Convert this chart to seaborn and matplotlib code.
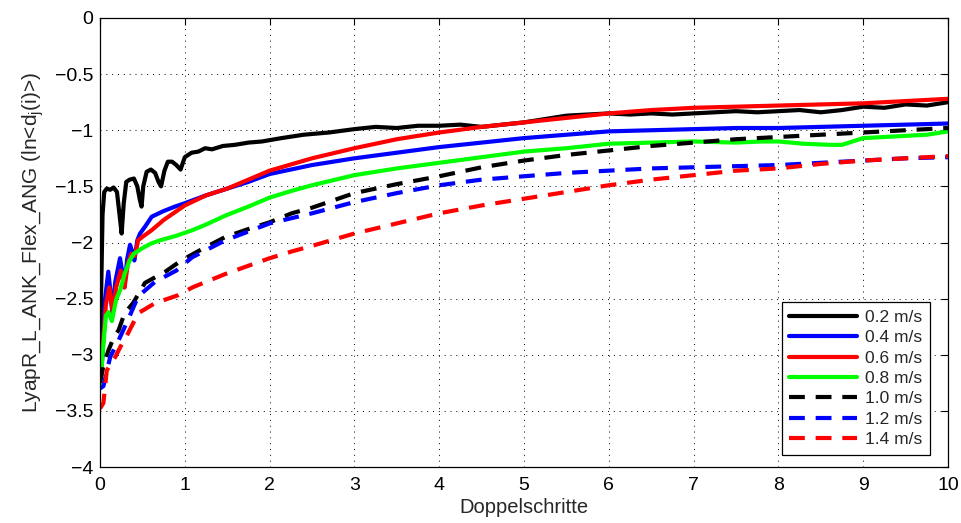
import numpy as np
import pandas as pd
import matplotlib
matplotlib.use("Agg")
import matplotlib.pyplot as plt
import seaborn as sns

# ---- data ----
labels = ["0.2 m/s", "0.4 m/s", "0.6 m/s", "0.8 m/s", "1.0 m/s", "1.2 m/s", "1.4 m/s"]
colors = ["#000000", "#0000ff", "#ff0000", "#00ff00", "#000000", "#0000ff", "#ff0000"]
dashed = [False, False, False, False, True, True, True]

x02 = [0.0, 0.01, 0.03, 0.05, 0.08, 0.12, 0.16, 0.2, 0.23, 0.255, 0.28, 0.31, 0.35, 0.4, 0.44, 0.47,
       0.49, 0.51, 0.55, 0.6, 0.65, 0.69, 0.72, 0.76, 0.8, 0.85, 0.9, 0.95, 1.0, 1.08, 1.16, 1.24,
       1.32, 1.45, 1.59, 1.75, 1.91, 2.14, 2.4, 2.7, 3.0, 3.25, 3.5, 3.75, 4.0, 4.25, 4.5, 4.75,
       5.0, 5.25, 5.5, 5.75, 6.0, 6.25, 6.5, 6.75, 7.0, 7.25, 7.5, 7.75, 8.0, 8.25, 8.5, 8.75,
       9.0, 9.25, 9.5, 9.75, 10.0]
y02 = [-3.20, -2.60, -1.75, -1.55, -1.52, -1.53, -1.51, -1.55, -1.75, -1.92, -1.65, -1.46, -1.44,
       -1.43, -1.50, -1.62, -1.68, -1.50, -1.37, -1.35, -1.38, -1.46, -1.50, -1.36, -1.28, -1.28,
       -1.31, -1.35, -1.24, -1.20, -1.19, -1.16, -1.17, -1.14, -1.13, -1.11, -1.10, -1.07, -1.04,
       -1.02, -0.99, -0.97, -0.98, -0.96, -0.96, -0.95, -0.97, -0.95, -0.93, -0.90, -0.87, -0.86,
       -0.85, -0.86, -0.85, -0.86, -0.85, -0.84, -0.83, -0.84, -0.83, -0.82, -0.84, -0.82, -0.79,
       -0.80, -0.77, -0.78, -0.75]

x04 = [0.0, 0.03, 0.06, 0.098, 0.125, 0.145, 0.18, 0.236, 0.26, 0.287, 0.32, 0.354, 0.38, 0.405,
       0.44, 0.472, 0.53, 0.61, 0.75, 0.884, 1.0, 1.25, 1.5, 1.75, 2.0, 2.5, 3.0, 3.5, 4.0, 4.5,
       5.0, 5.5, 6.0, 6.5, 7.0, 7.5, 8.0, 8.5, 9.0, 9.5, 10.0]
y04 = [-3.30, -3.00, -2.50, -2.26, -2.45, -2.63, -2.35, -2.14, -2.25, -2.40, -2.15, -2.02, -2.08,
       -2.16, -1.98, -1.92, -1.86, -1.77, -1.72, -1.68, -1.65, -1.58, -1.52, -1.46, -1.39, -1.31,
       -1.25, -1.20, -1.15, -1.11, -1.07, -1.04, -1.01, -1.00, -0.99, -0.98, -0.98, -0.97, -0.96,
       -0.95, -0.94]

x06 = [0.0, 0.03, 0.07, 0.11, 0.15, 0.19, 0.245, 0.29, 0.33, 0.37, 0.41, 0.45, 0.5, 0.61, 0.75,
       0.884, 1.0, 1.25, 1.5, 1.75, 2.0, 2.5, 3.0, 3.5, 4.0, 4.5, 5.0, 5.5, 6.0, 6.5, 7.0, 7.5,
       8.0, 8.5, 9.0, 9.5, 10.0]
y06 = [-3.25, -2.95, -2.55, -2.40, -2.62, -2.40, -2.25, -2.40, -2.18, -2.10, -2.12, -1.98, -1.95,
       -1.89, -1.80, -1.73, -1.67, -1.58, -1.52, -1.44, -1.36, -1.25, -1.16, -1.08, -1.02, -0.97,
       -0.93, -0.89, -0.85, -0.82, -0.80, -0.79, -0.78, -0.77, -0.76, -0.74, -0.72]

x08 = [0.0, 0.03, 0.07, 0.1, 0.14, 0.19, 0.24, 0.29, 0.35, 0.4, 0.5, 0.6, 0.71, 0.9, 1.09, 1.25,
       1.48, 1.75, 2.0, 2.26, 2.5, 3.0, 3.5, 4.0, 4.5, 5.0, 5.5, 6.0, 6.5, 7.0, 7.5, 7.8, 8.0,
       8.3, 8.6, 8.75, 9.0, 9.25, 9.5, 9.75, 10.0]
y08 = [-3.30, -3.00, -2.65, -2.62, -2.70, -2.51, -2.42, -2.28, -2.16, -2.10, -2.05, -2.01, -1.98,
       -1.94, -1.89, -1.84, -1.76, -1.68, -1.60, -1.54, -1.49, -1.40, -1.34, -1.29, -1.24, -1.19,
       -1.16, -1.12, -1.11, -1.10, -1.11, -1.10, -1.10, -1.12, -1.13, -1.13, -1.07, -1.06, -1.05,
       -1.04, -1.01]

x10 = [0.0, 0.04, 0.1, 0.16, 0.22, 0.29, 0.39, 0.53, 0.77, 0.96, 1.2, 1.48, 1.75, 2.0, 2.26, 2.5,
       3.0, 3.5, 4.0, 4.5, 5.0, 5.5, 6.0, 6.5, 7.0, 7.5, 8.0, 8.5, 9.0, 9.5, 10.0]
y10 = [-3.25, -3.10, -2.96, -2.85, -2.78, -2.63, -2.54, -2.36, -2.26, -2.16, -2.06, -1.95, -1.88,
       -1.82, -1.74, -1.69, -1.56, -1.48, -1.41, -1.33, -1.27, -1.22, -1.18, -1.14, -1.11, -1.08,
       -1.06, -1.04, -1.02, -1.00, -0.98]

x12 = [0.0, 0.04, 0.12, 0.22, 0.33, 0.45, 0.65, 0.9, 1.09, 1.48, 2.0, 2.5, 3.0, 3.5, 4.0, 4.5, 5.0,
       5.5, 6.0, 6.5, 7.0, 7.5, 8.0, 8.5, 9.0, 9.5, 10.0]
y12 = [-3.30, -3.28, -3.02, -2.87, -2.69, -2.48, -2.35, -2.25, -2.13, -1.98, -1.83, -1.74, -1.64,
       -1.56, -1.49, -1.44, -1.41, -1.38, -1.36, -1.34, -1.33, -1.32, -1.31, -1.29, -1.27, -1.25,
       -1.24]

x14 = [0.0, 0.04, 0.08, 0.18, 0.24, 0.33, 0.45, 0.65, 0.92, 1.09, 1.48, 2.0, 2.26, 2.5, 3.0, 3.5,
       4.0, 4.5, 5.0, 5.5, 6.0, 6.5, 7.0, 7.5, 8.0, 8.5, 9.0, 9.5, 10.0]
y14 = [-3.48, -3.43, -3.14, -3.02, -2.93, -2.81, -2.63, -2.54, -2.47, -2.40, -2.28, -2.14, -2.08,
       -2.03, -1.92, -1.83, -1.74, -1.67, -1.61, -1.55, -1.49, -1.44, -1.40, -1.36, -1.34, -1.30,
       -1.27, -1.25, -1.23]

xs = [x02, x04, x06, x08, x10, x12, x14]
ys = [y02, y04, y06, y08, y10, y12, y14]

yticks = [-4, -3.5, -3, -2.5, -2, -1.5, -1, -0.5, 0]
yticklabels = ["\u22124", "\u22123.5", "\u22123", "\u22122.5", "\u22122", "\u22121.5", "\u22121", "\u22120.5", "0"]
xticks = list(range(0, 11))

# ---- styling ----
sns.set_style("white")
plt.rcParams["font.family"] = ["Liberation Sans", "DejaVu Sans"]
plt.rcParams["mathtext.fontset"] = "custom"
plt.rcParams["mathtext.rm"] = "Liberation Sans"
plt.rcParams["mathtext.it"] = "Liberation Sans"

fig = plt.figure(figsize=(9.61, 5.23), dpi=100)
ax = fig.add_axes([100 / 961, 1 - 467 / 523, 848 / 961, 449 / 523])

frames = []
for lab, x, y in zip(labels, xs, ys):
    frames.append(pd.DataFrame({"x": x, "y": y, "speed": lab}))
df = pd.concat(frames, ignore_index=True)

lw = 3.0
for lab, col, d in zip(labels, colors, dashed):
    sub = df[df["speed"] == lab]
    sns.lineplot(data=sub, x="x", y="y", color=col, linewidth=lw, ax=ax,
                 estimator=None, sort=False, label=lab)
    line = ax.lines[-1]
    if d:
        line.set_dashes((3.8, 2.6))
    line.set_solid_joinstyle("round")

ax.set_xlim(0, 10)
ax.set_ylim(-4, 0)
ax.set_xticks(xticks)
ax.set_xticklabels([str(t) for t in xticks])
ax.set_yticks(yticks)
ax.set_yticklabels(yticklabels)
ax.tick_params(direction="in", length=5, width=0.8, top=True, right=True,
               labelsize=14, colors="black")
ax.tick_params(axis="x", pad=7)
ax.tick_params(axis="y", pad=5)
ax.grid(True, color="black", linestyle=(0, (1, 5)), linewidth=0.7)
for s in ax.spines.values():
    s.set_color("black")
    s.set_linewidth(0.9)

ax.set_xlabel("Doppelschritte", fontsize=14.5, labelpad=3)
ax.set_ylabel(r"LyapR_L_ANK_Flex_ANG (ln<d$_{\mathregular{j}}$(i)>)", fontsize=15, labelpad=6)

handles = ax.lines[:7]
leg = ax.legend(handles, labels, loc="lower right",
                bbox_to_anchor=((930 - 100) / 848, (467 - 455) / 449),
                fontsize=12.5, frameon=True, fancybox=False,
                edgecolor="black", framealpha=1, handlelength=3.9, borderpad=0.45,
                labelspacing=0.3, borderaxespad=0.0, handletextpad=0.45)
leg.get_frame().set_linewidth(0.9)

fig.savefig("out.png", dpi=100, facecolor="white")
